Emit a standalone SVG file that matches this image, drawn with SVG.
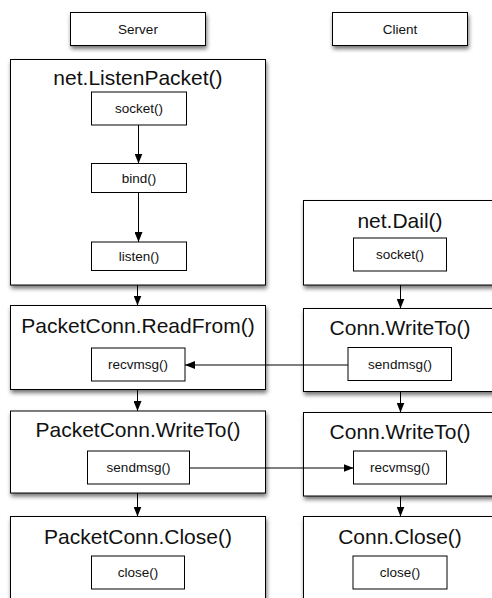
<svg xmlns="http://www.w3.org/2000/svg" width="492" height="598" viewBox="0 0 492 598">
<defs>
<filter id="sh" x="-10%" y="-10%" width="130%" height="130%">
<feDropShadow dx="1" dy="3" stdDeviation="2" flood-color="#000" flood-opacity="0.55"/>
</filter>
<marker id="ah" viewBox="0 0 10 8" refX="10" refY="4" markerWidth="10" markerHeight="8" markerUnits="userSpaceOnUse" orient="auto">
<path d="M0,0 L10,4 L0,8 Z" fill="#000"/>
</marker>
</defs>
<style>
.big{fill:#fff;stroke:#000;stroke-width:1;filter:url(#sh)}
.sm{fill:#fff;stroke:#000;stroke-width:1}
.t1{font-family:"Liberation Sans",Arial,Helvetica,sans-serif;font-size:21px;fill:#111;text-anchor:middle}
.t2{font-family:"Liberation Sans",Arial,Helvetica,sans-serif;font-size:13.5px;fill:#111;text-anchor:middle}
.c{stroke:#000;stroke-width:1;fill:none;marker-end:url(#ah)}
</style>
<rect width="492" height="598" fill="#fff"/>

<g id="server-label">
<rect class="big" x="70.5" y="12.5" width="135" height="33"/>
<text class="t2" x="138" y="34">Server</text>
</g>
<g id="client-label">
<rect class="big" x="332.5" y="12.5" width="135" height="33"/>
<text class="t2" x="400" y="34">Client</text>
</g>

<g id="listenpacket">
<rect class="big" x="10.5" y="59.5" width="255" height="225.5"/>
<text class="t1" x="138" y="85">net.ListenPacket()</text>
</g>
<g id="s-socket">
<rect class="sm" x="91.5" y="92" width="95" height="33"/>
<text class="t2" x="139" y="113">socket()</text>
</g>
<g id="s-bind">
<rect class="sm" x="91.5" y="163.5" width="95" height="29"/>
<text class="t2" x="139" y="183">bind()</text>
</g>
<g id="s-listen">
<rect class="sm" x="91.5" y="242" width="95" height="28.5"/>
<text class="t2" x="139" y="261">listen()</text>
</g>

<g id="readfrom">
<rect class="big" x="10.5" y="305.5" width="255" height="84"/>
<text class="t1" x="138" y="333">PacketConn.ReadFrom()</text>
</g>
<g id="s-recvmsg">
<rect class="sm" x="91.5" y="348" width="93.5" height="33"/>
<text class="t2" x="138" y="369">recvmsg()</text>
</g>

<g id="writeto">
<rect class="big" x="10.5" y="411" width="255" height="82"/>
<text class="t1" x="138" y="437">PacketConn.WriteTo()</text>
</g>
<g id="s-sendmsg">
<rect class="sm" x="87.5" y="451" width="102" height="33"/>
<text class="t2" x="138.5" y="472">sendmsg()</text>
</g>

<g id="close">
<rect class="big" x="10.5" y="516.5" width="255" height="100"/>
<text class="t1" x="138" y="544">PacketConn.Close()</text>
</g>
<g id="s-close">
<rect class="sm" x="91.5" y="556" width="93" height="33"/>
<text class="t2" x="138" y="577">close()</text>
</g>

<g id="dail">
<rect class="big" x="303.5" y="200.5" width="195" height="84.5"/>
<text class="t1" x="400" y="228">net.Dail()</text>
</g>
<g id="c-socket">
<rect class="sm" x="353.5" y="238" width="93" height="33"/>
<text class="t2" x="400" y="259">socket()</text>
</g>

<g id="conn-writeto1">
<rect class="big" x="303.5" y="308.5" width="195" height="83"/>
<text class="t1" x="400" y="335">Conn.WriteTo()</text>
</g>
<g id="c-sendmsg">
<rect class="sm" x="348" y="347.5" width="103.5" height="33"/>
<text class="t2" x="400" y="368.5">sendmsg()</text>
</g>

<g id="conn-writeto2">
<rect class="big" x="303.5" y="412.5" width="195" height="83.5"/>
<text class="t1" x="400" y="439">Conn.WriteTo()</text>
</g>
<g id="c-recvmsg">
<rect class="sm" x="353.5" y="451" width="93" height="33"/>
<text class="t2" x="400" y="472">recvmsg()</text>
</g>

<g id="conn-close">
<rect class="big" x="303.5" y="516.5" width="195" height="100"/>
<text class="t1" x="400" y="544">Conn.Close()</text>
</g>
<g id="c-close">
<rect class="sm" x="353" y="556" width="94" height="33"/>
<text class="t2" x="400" y="577">close()</text>
</g>

<g id="connectors">
<line class="c" x1="138.5" y1="125" x2="138.5" y2="163.5"/>
<line class="c" x1="138.5" y1="192.5" x2="138.5" y2="242"/>
<line class="c" x1="137.5" y1="285" x2="137.5" y2="305.5"/>
<line class="c" x1="137.5" y1="389.5" x2="137.5" y2="411"/>
<line class="c" x1="137.5" y1="493" x2="137.5" y2="516.5"/>
<line class="c" x1="400.5" y1="285" x2="400.5" y2="308.5"/>
<line class="c" x1="400.5" y1="391.5" x2="400.5" y2="412.5"/>
<line class="c" x1="400.5" y1="496" x2="400.5" y2="516.5"/>
<line class="c" x1="348" y1="365" x2="185" y2="365"/>
<line class="c" x1="189.5" y1="468" x2="353.5" y2="468"/>
</g>
</svg>
